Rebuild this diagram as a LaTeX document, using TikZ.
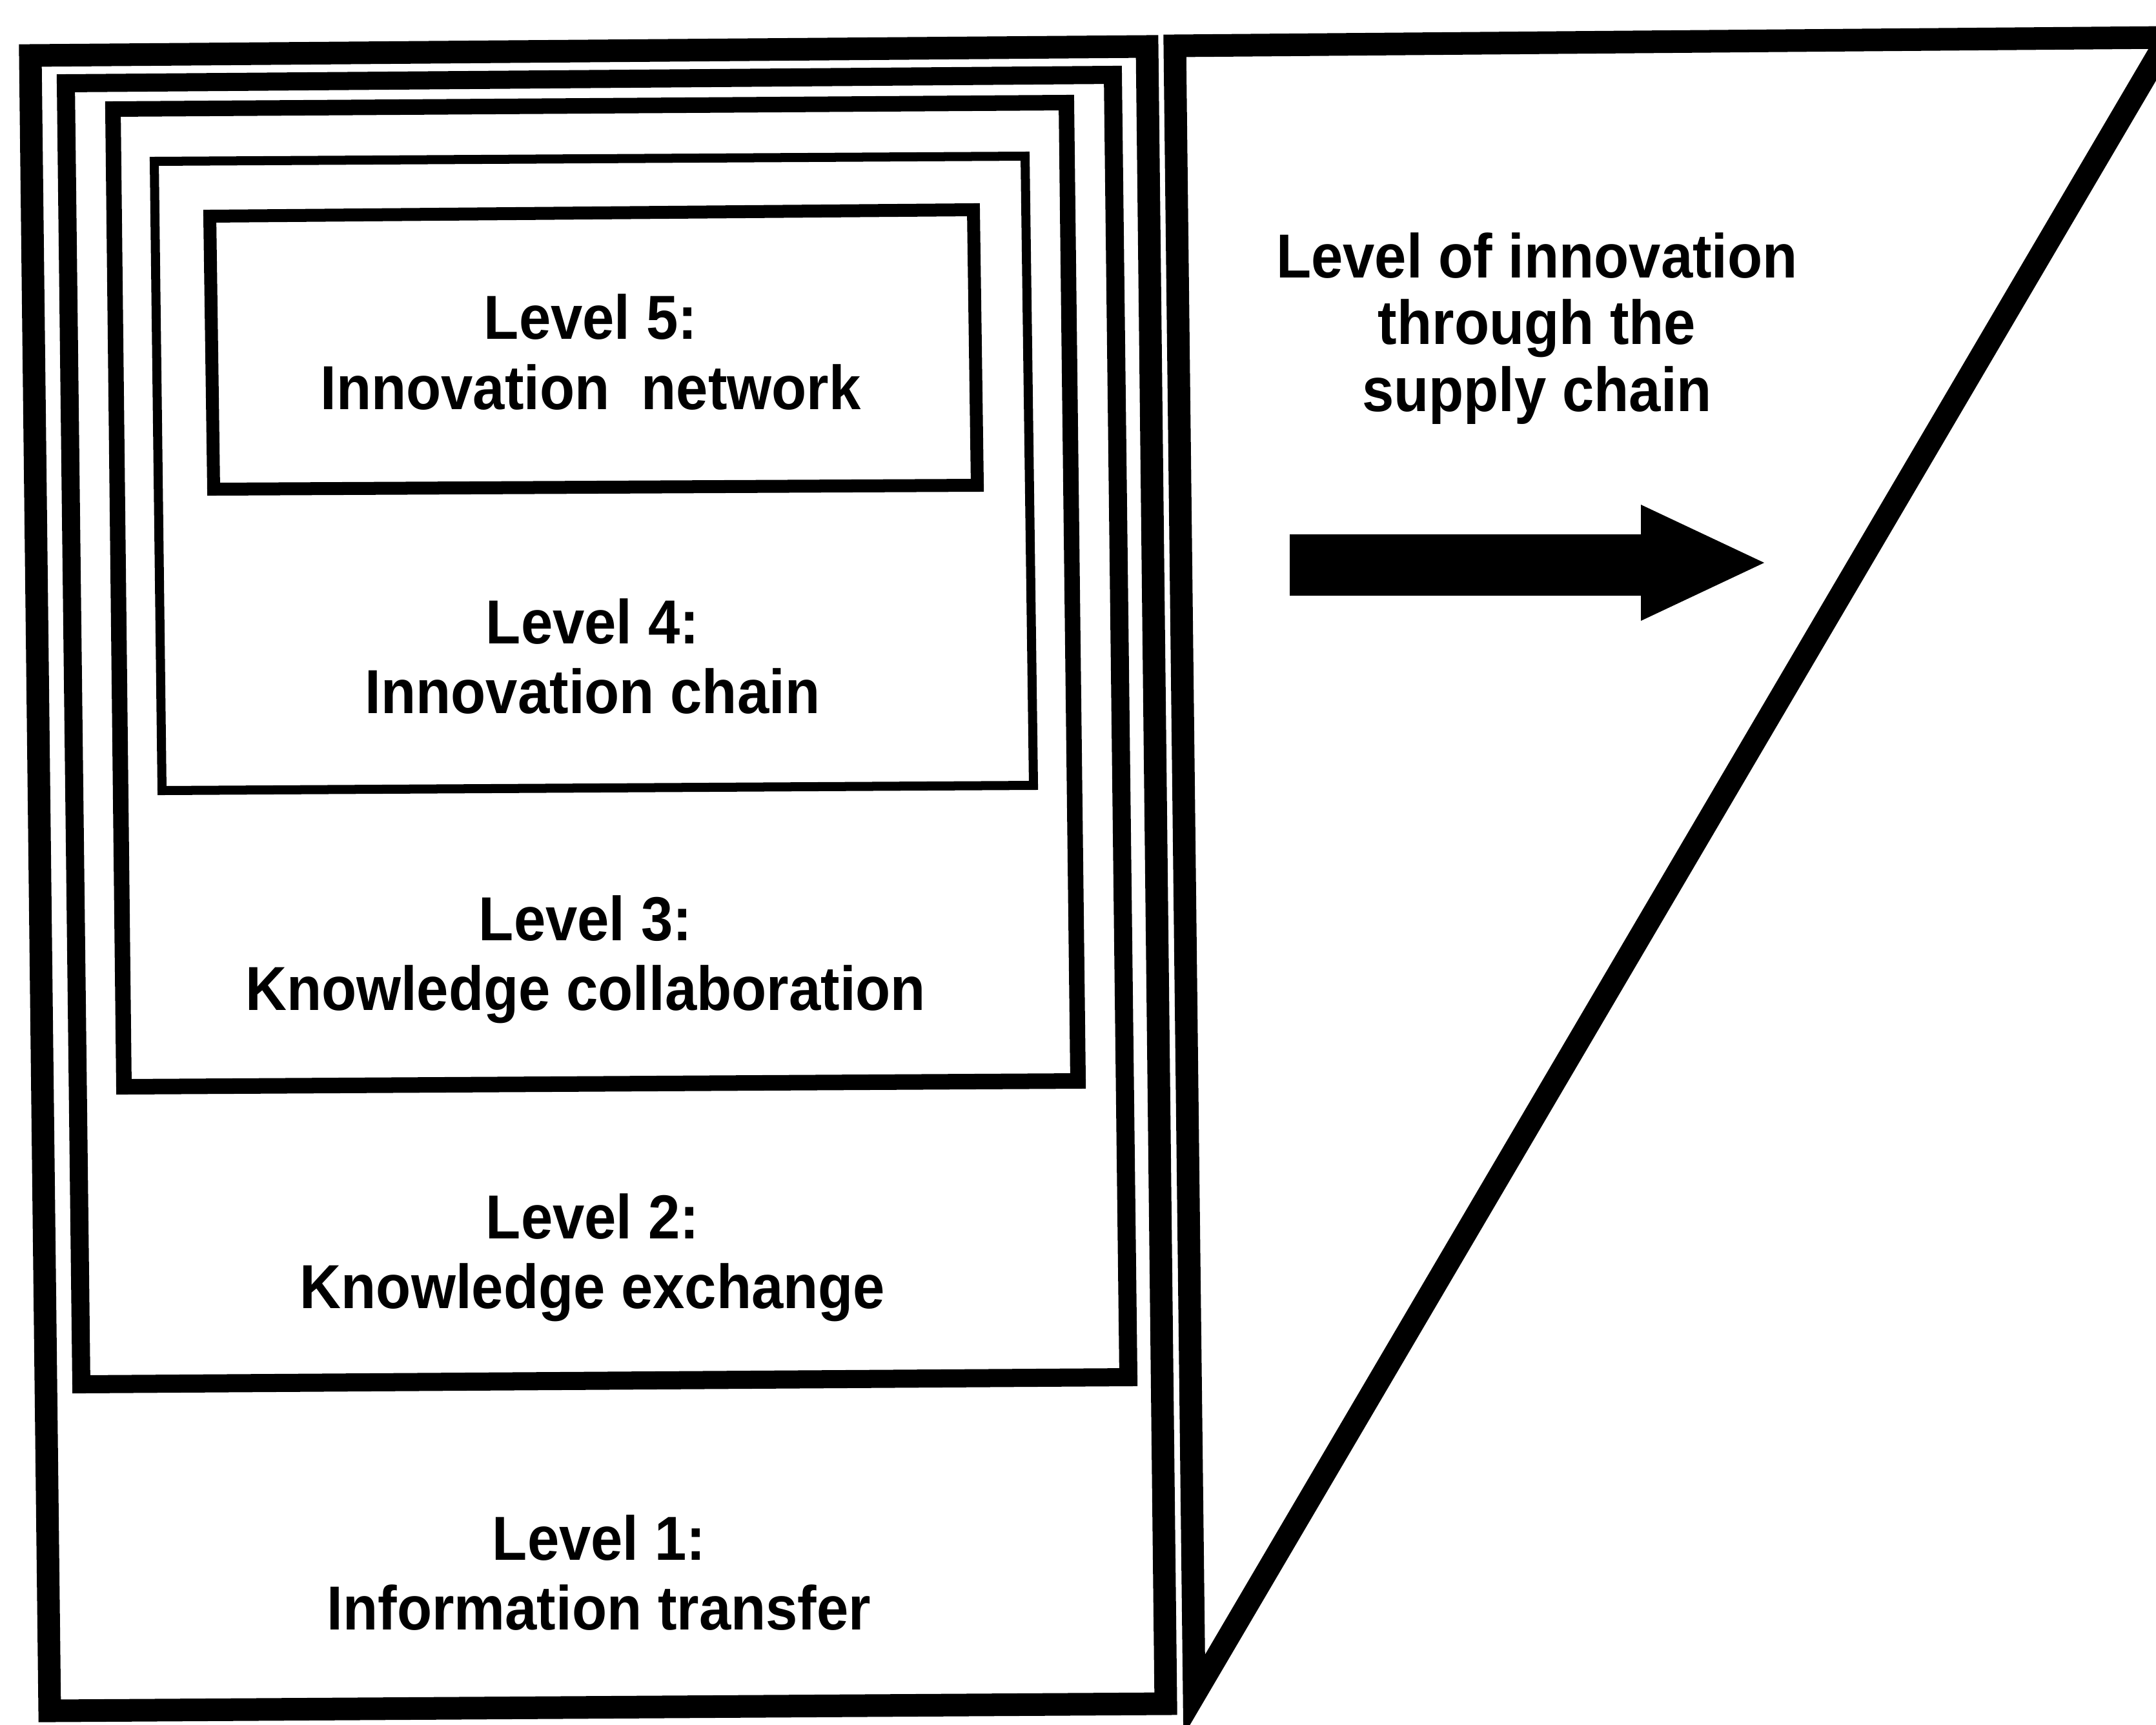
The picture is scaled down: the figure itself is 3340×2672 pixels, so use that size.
\documentclass[tikz,border=0pt]{standalone}
\usepackage{fontspec}
\setmainfont{Liberation Sans}[FakeStretch=0.92]
\begin{document}
\begin{tikzpicture}[x=0.01cm, y=-0.01cm, line join=miter,
  frame/.style={draw=black},
  lbl/.style={anchor=base, inner sep=0pt,
    font=\fontsize{27.4pt}{31pt}\selectfont\bfseries}]
\useasboundingbox (0,0) rectangle (3340,2672);
\fill[white] (0,0) rectangle (3340,2672);
\clip (0,0) rectangle (3340,2672);

% nested level frames, outermost first
\draw[frame, line width=0.35cm] (47,86) -- (1777,72) -- (1806,2640) -- (77,2651) -- cycle;
\draw[frame, line width=0.28cm] (102,129) -- (1724,116) -- (1748,2134) -- (126,2145) -- cycle;
\draw[frame, line width=0.24cm] (175,169) -- (1652,159) -- (1670,1675) -- (192,1684) -- cycle;
\draw[frame, line width=0.14cm] (239,250) -- (1588,242) -- (1601,1217) -- (251,1225) -- cycle;
\draw[frame, line width=0.20cm] (325,335) -- (1508,325) -- (1514,752) -- (331,758) -- cycle;

% wedge on the right
\draw[frame, line width=0.35cm] (1820,71) -- (3359,58) -- (1850,2627) -- cycle;

% block arrow
\fill[black] (1998,828) -- (2542,828) -- (2542,782) -- (2733,872)
  -- (2542,962) -- (2542,923) -- (1998,923) -- cycle;

% level labels
\node[lbl] (l5a) at (915,525) {Level 5:};
\node[lbl] (l5b) at (915,634) {Innovation\ \ network};
\node[lbl] (l4a) at (918,997) {Level 4:};
\node[lbl] (l4b) at (918,1105) {Innovation chain};
\node[lbl] (l3a) at (907,1457) {Level 3:};
\node[lbl] (l3b) at (907,1565) {Knowledge collaboration};
\node[lbl] (l2a) at (918,1919) {Level 2:};
\node[lbl] (l2b) at (918,2027) {Knowledge exchange};
\node[lbl] (l1a) at (928,2417) {Level 1:};
\node[lbl] (l1b) at (928,2525) {Information transfer};

% wedge caption
\node[lbl] (ta) at (2381,430) {Level of innovation};
\node[lbl] (tb) at (2381,533) {through the};
\node[lbl] (tc) at (2381,637) {supply chain};
\end{tikzpicture}
\end{document}
